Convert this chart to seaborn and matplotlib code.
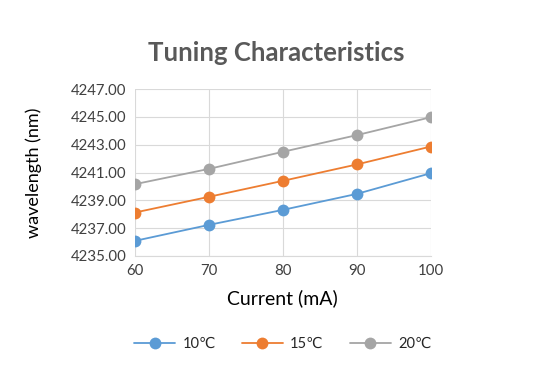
import pandas as pd
import numpy as np
import seaborn as sns
import matplotlib.pyplot as plt

# --- data ---
current = [60, 70, 80, 90, 100]
wl_10 = [4236.08, 4237.23, 4238.31, 4239.46, 4240.95]
wl_15 = [4238.12, 4239.25, 4240.40, 4241.58, 4242.87]
wl_20 = [4240.16, 4241.26, 4242.49, 4243.69, 4244.98]
series_names = ['10℃', '15℃', '20℃']
colors = ['#5B9BD5', '#ED7D31', '#A5A5A5']

df = pd.DataFrame({
    'Current': current * 3,
    'Wavelength': wl_10 + wl_15 + wl_20,
    'Temp': [n for n in series_names for _ in current],
})

sns.set_style('white')
plt.rcParams['font.family'] = ['Lato', 'DejaVu Sans']

fig = plt.figure(figsize=(5.53, 3.73), dpi=100)
ax = fig.add_axes([0.244, 0.314, 0.535, 0.447])

sns.lineplot(data=df, x='Current', y='Wavelength', hue='Temp', palette=colors,
             marker='o', markersize=8.5, markeredgewidth=0, linewidth=1.3, ax=ax)

ax.set_xlim(60, 100)
ax.set_ylim(4235, 4247)
ax.set_xticks(current)
ax.set_yticks(np.arange(4235, 4248, 2))
ax.set_yticklabels([f'{v:.2f}' for v in np.arange(4235, 4248, 2)])
ax.grid(True, color='#D9D9D9', linewidth=0.8)
ax.set_axisbelow(True)
for s in ['top', 'right', 'left']:
    ax.spines[s].set_visible(False)
ax.spines['bottom'].set_color('#D9D9D9')
ax.tick_params(axis='both', length=0, labelsize=10.8, colors='#404040', pad=6)

ax.set_xlabel('Current (mA)', fontsize=14, color='#000000', labelpad=8)
ax.set_ylabel('wavelength (nm)', fontsize=13, color='#000000', labelpad=21)
fig.text(0.5, 0.858, 'Tuning Characteristics', ha='center', va='center',
         fontsize=18.5, fontweight='bold', color='#595959')

handles, labels = ax.get_legend_handles_labels()
ax.legend(handles, labels, loc='center', bbox_to_anchor=(0.5, -0.53),
          ncol=3, frameon=False, fontsize=10.5, handlelength=2.8,
          columnspacing=1.8, handletextpad=0.5)

fig.savefig('out.png', dpi=100)
